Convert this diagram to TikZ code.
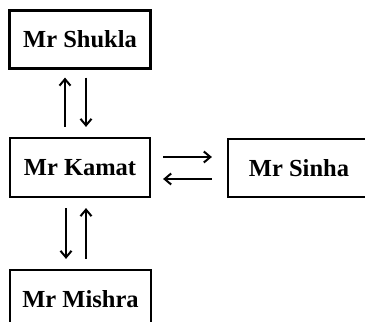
\documentclass[tikz,border=0pt]{standalone}
\usepackage{fontspec}
\setmainfont{Liberation Serif}
\usetikzlibrary{arrows.meta}
\begin{document}
\begin{tikzpicture}[x=1pt,y=1pt,
  person/.style={draw,line width=2.2pt,minimum width=141pt,minimum height=58pt,
    inner sep=0pt,font=\fontsize{24.5}{28}\selectfont\bfseries},
  arr/.style={line width=2pt,-{Straight Barb[length=6.5pt,width=11pt,line width=2pt]}}]
\clip (0,0) rectangle (365,322);
\fill[white] (0,0) rectangle (365,322);
\node[person] (shukla) at (80,282.5) {Mr Shukla};
\node[person,minimum width=140pt,minimum height=59pt] (kamat) at (80,154.5) {Mr Kamat};
\node[person,minimum width=142pt] (sinha) at (299,154) {Mr Sinha};
\node[person] (mishra) at (80.5,23) {Mr Mishra};
% Kamat <-> Shukla
\draw[arr] ([xshift=-15pt,yshift=10pt]kamat.north) -- ([xshift=-15pt,yshift=-8pt]shukla.south);
\draw[arr] ([xshift=6pt,yshift=-8pt]shukla.south) -- ([xshift=6pt,yshift=10pt]kamat.north);
% Kamat <-> Mishra
\draw[arr] ([xshift=-14pt,yshift=-10pt]kamat.south) -- ([xshift=-14.5pt,yshift=10pt]mishra.north);
\draw[arr] ([xshift=5.5pt,yshift=10pt]mishra.north) -- ([xshift=6pt,yshift=-10pt]kamat.south);
% Kamat <-> Sinha
\draw[arr] ([xshift=12pt,yshift=10.5pt]kamat.east) -- ([xshift=-15pt,yshift=10.5pt]kamat.east-|sinha.west);
\draw[arr] ([xshift=-15pt,yshift=-11.5pt]kamat.east-|sinha.west) -- ([xshift=12pt,yshift=-11.5pt]kamat.east);
\end{tikzpicture}
\end{document}
